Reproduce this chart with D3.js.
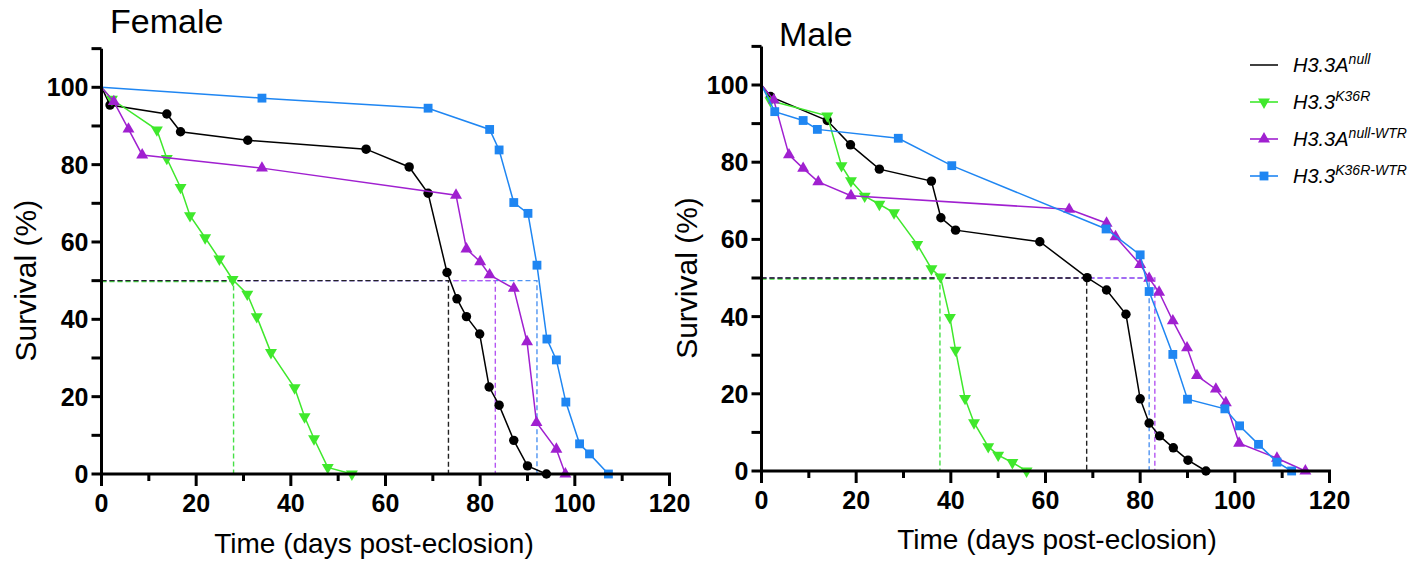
<!DOCTYPE html>
<html>
<head>
<meta charset="utf-8">
<script src="https://cdn.jsdelivr.net/npm/d3@7"></script>
<style>
  body { margin: 0; background: #fff; }
  svg { font-family: "Liberation Sans", Arial, sans-serif; }
  .tick-label { font-family: "Liberation Sans Narrow", "Arial Narrow", "Liberation Sans", sans-serif; font-weight: bold; }
</style>
</head>
<body>
<div id="chart"></div>
<script>
// survival curves, [day, % alive]
const femaleNull = [[0,100],[1.8,95.4],[13.8,93.1],[16.7,88.5],[30.9,86.3],[55.9,84.0],[65,79.4],[69,72.6],[73,52.1],[75.1,45.3],[77.1,40.7],[79.9,36.2],[81.9,22.5],[84,17.8],[87.1,8.7],[90,2.1],[94,0]];
const femaleK36R = [[0,100],[2.2,96.9],[11.7,89.0],[13.8,81.6],[16.7,74.1],[18.7,66.8],[21.9,61.1],[24.9,55.6],[27.7,50.3],[30.8,46.5],[32.8,40.7],[35.8,31.4],[40.8,22.3],[42.9,14.8],[44.9,9.1],[47.8,1.7],[52.9,0]];
const femaleNullWTR = [[0,100],[2.6,96.3],[5.7,89.2],[8.6,82.5],[33.9,79.1],[74.9,72.1],[77.1,58.2],[80,54.9],[82,51.5],[87.1,48.0],[89.9,34.2],[91.9,13.3],[96.1,6.4],[98,0]];
const femaleK36RWTR = [[0,100],[33.9,97.2],[69,94.6],[82,89.1],[84,83.8],[87.1,70.2],[90.1,67.4],[92,54.0],[94.1,34.9],[96.1,29.5],[98.1,18.6],[101,7.8],[103.1,5.2],[107.1,0]];

const maleNull = [[0,100],[1.9,97.0],[13.9,90.8],[18.8,84.5],[24.9,78.2],[35.9,75.1],[37.9,65.6],[41,62.4],[58.8,59.4],[68.8,50.1],[72.9,46.9],[77,40.6],[80,18.7],[81.9,12.4],[84.1,9.1],[87,6.0],[90.1,2.8],[93.9,0]];
const maleK36R = [[0,100],[1.9,95.9],[13.9,92.0],[16.9,79.1],[18.9,75.2],[21.8,71.2],[24.9,69.1],[28,66.9],[32.9,58.7],[35.9,52.4],[37.8,50.3],[39.8,39.8],[41,31.3],[43,18.8],[44.9,12.5],[47.9,6.3],[50,4.1],[53,2.2],[56,0]];
const maleNullWTR = [[0,100],[2.6,96.1],[5.8,81.9],[8.8,78.4],[12,74.9],[18.9,71.3],[65,67.8],[72.9,64.2],[74.8,60.7],[80,53.5],[81.9,49.9],[84,46.3],[86.9,38.9],[89.9,31.9],[92,24.7],[96,21.2],[98.1,17.7],[100.9,7.2],[108.9,3.3],[114.9,0]];
const maleK36RWTR = [[0,100],[2.8,93.1],[8.8,90.8],[11.8,88.5],[28.9,86.2],[40.2,79.1],[72.8,62.7],[80,56.0],[81.9,46.5],[86.9,30.2],[90,18.6],[97.9,16.1],[101,11.7],[105,6.9],[108.9,2.3],[112,0]];

// median survival (day at 50%), same order as the series
const femaleMedians = [73.3, 27.9, 83.2, 92.0];
const maleMedians = [68.7, 37.7, 83.1, 81.9];

const seriesNames = ["H3.3A", "H3.3", "H3.3A", "H3.3"];
const seriesSups = ["null", "K36R", "null-WTR", "K36R-WTR"];
const seriesColors = ["#000000", "#3fe82c", "#a020d0", "#1f86f2"];
const medianColors = ["#222222", "#46e046", "#b455f2", "#4f94f2"];
const seriesSymbols = ["circle", "down", "up", "square"];

const xTicks = [0, 20, 40, 60, 80, 100, 120];
const yTicks = [0, 20, 40, 60, 80, 100];

const W = 1425, H = 565;
const svg = d3.select("#chart").append("svg").attr("width", W).attr("height", H);

function symbolPath(kind) {
  if (kind === "circle") return d3.symbol(d3.symbolCircle, 70)();
  if (kind === "square") return d3.symbol(d3.symbolSquare, 78)();
  return d3.symbol(d3.symbolTriangle, 62)();
}

function drawPanel(p) {
  const x = d3.scaleLinear().domain([0, 120]).range([p.left, p.right]);
  const y = d3.scaleLinear().domain([0, 100]).range([p.bottom, p.top100]);
  const g = svg.append("g");

  // median dashed lines (under the curves), black ends on top
  [3, 2, 1, 0].forEach(i => {
    const m = p.medians[i];
    g.append("path")
      .attr("d", `M${x(0)},${y(50) + (i === 1 ? 1 : 0)}H${x(m)}V${y(0)}`)
      .attr("fill", "none")
      .attr("stroke", medianColors[i])
      .attr("stroke-width", 1.4)
      .attr("stroke-dasharray", "5,3");
  });

  const line = d3.line().x(d => x(d[0])).y(d => y(d[1]));
  p.series.forEach((data, i) => {
    g.append("path")
      .datum(data)
      .attr("d", line)
      .attr("fill", "none")
      .attr("stroke", seriesColors[i])
      .attr("stroke-width", 1.5);
    g.selectAll(null).data(data.slice(1))
      .enter().append("path")
      .attr("d", symbolPath(seriesSymbols[i]))
      .attr("transform", d => `translate(${x(d[0])},${y(d[1])})` + (seriesSymbols[i] === "down" ? " rotate(180)" : ""))
      .attr("fill", seriesColors[i]);
  });

  // y axis
  const yAxis = g.append("g").attr("transform", `translate(${p.left},0)`);
  yAxis.append("line")
    .attr("x1", 0).attr("x2", 0)
    .attr("y1", y(110)).attr("y2", p.bottom + 1.5)
    .attr("stroke", "#000").attr("stroke-width", 3);
  yAxis.selectAll(".yt").data(d3.range(0, 111, 10))
    .enter().append("line")
    .attr("x1", -10).attr("x2", 0)
    .attr("y1", d => y(d)).attr("y2", d => y(d))
    .attr("stroke", "#000").attr("stroke-width", 3);
  yAxis.selectAll(".yl").data(yTicks)
    .enter().append("text")
    .attr("class", "tick-label")
    .attr("x", -13).attr("y", d => y(d))
    .attr("dy", "0.36em")
    .attr("text-anchor", "end")
    .attr("font-size", 25)
    .text(d => d);

  // x axis
  const xAxis = g.append("g").attr("transform", `translate(0,${p.bottom})`);
  xAxis.append("line")
    .attr("x1", p.left - 1.5).attr("x2", x(120) + 1.5)
    .attr("y1", 0).attr("y2", 0)
    .attr("stroke", "#000").attr("stroke-width", 3);
  xAxis.selectAll(".xt").data(d3.range(0, 121, 10))
    .enter().append("line")
    .attr("x1", d => x(d)).attr("x2", d => x(d))
    .attr("y1", 0).attr("y2", d => d % 20 === 0 ? 12 : 7)
    .attr("stroke", "#000").attr("stroke-width", 3);
  xAxis.selectAll(".xl").data(xTicks)
    .enter().append("text")
    .attr("class", "tick-label")
    .attr("x", d => x(d)).attr("y", 38)
    .attr("text-anchor", "middle")
    .attr("font-size", 25)
    .text(d => d);

  // titles
  g.append("text").attr("x", p.titleX).attr("y", p.titleY)
    .attr("font-size", 34).text(p.title);
  g.append("text")
    .attr("transform", `translate(${p.yTitleX},${y(50)}) rotate(-90)`)
    .attr("text-anchor", "middle")
    .attr("font-size", 30)
    .text("Survival (%)");
  g.append("text")
    .attr("x", p.xTitleX).attr("y", p.bottom + p.xTitleDy)
    .attr("text-anchor", "middle")
    .attr("font-size", 28)
    .text("Time (days post-eclosion)");
}

drawPanel({
  title: "Female", titleX: 110, titleY: 33,
  left: 101.5, right: 669.5, bottom: 474, top100: 87.3,
  yTitleX: 36, xTitleX: 374, xTitleDy: 79,
  series: [femaleNull, femaleK36R, femaleNullWTR, femaleK36RWTR],
  medians: femaleMedians
});
drawPanel({
  title: "Male", titleX: 779, titleY: 46,
  left: 761.5, right: 1329.5, bottom: 471, top100: 85,
  yTitleX: 697, xTitleX: 1057, xTitleDy: 78,
  series: [maleNull, maleK36R, maleNullWTR, maleK36RWTR],
  medians: maleMedians
});

// legend
const legend = svg.append("g").attr("transform", "translate(1250,0)");
const legendY = [65, 102, 139, 176];
seriesNames.forEach((name, i) => {
  const row = legend.append("g").attr("transform", `translate(0,${legendY[i]})`);
  row.append("line").attr("x1", 0).attr("x2", 28).attr("y1", 0).attr("y2", 0)
    .attr("stroke", seriesColors[i]).attr("stroke-width", i === 0 ? 1.5 : 2)
    .attr("stroke-opacity", i === 0 ? 1 : 0.8);
  if (i > 0) {
    row.append("path")
      .attr("d", symbolPath(seriesSymbols[i]))
      .attr("transform", "translate(14,0)" + (seriesSymbols[i] === "down" ? " rotate(180)" : ""))
      .attr("fill", seriesColors[i]);
  }
  const t = row.append("text").attr("x", 43).attr("y", 7)
    .attr("font-size", 20).attr("font-style", "italic");
  t.append("tspan").text(name);
  t.append("tspan").attr("dy", -8).attr("font-size", 14).text(seriesSups[i]);
});
</script>
</body>
</html>
